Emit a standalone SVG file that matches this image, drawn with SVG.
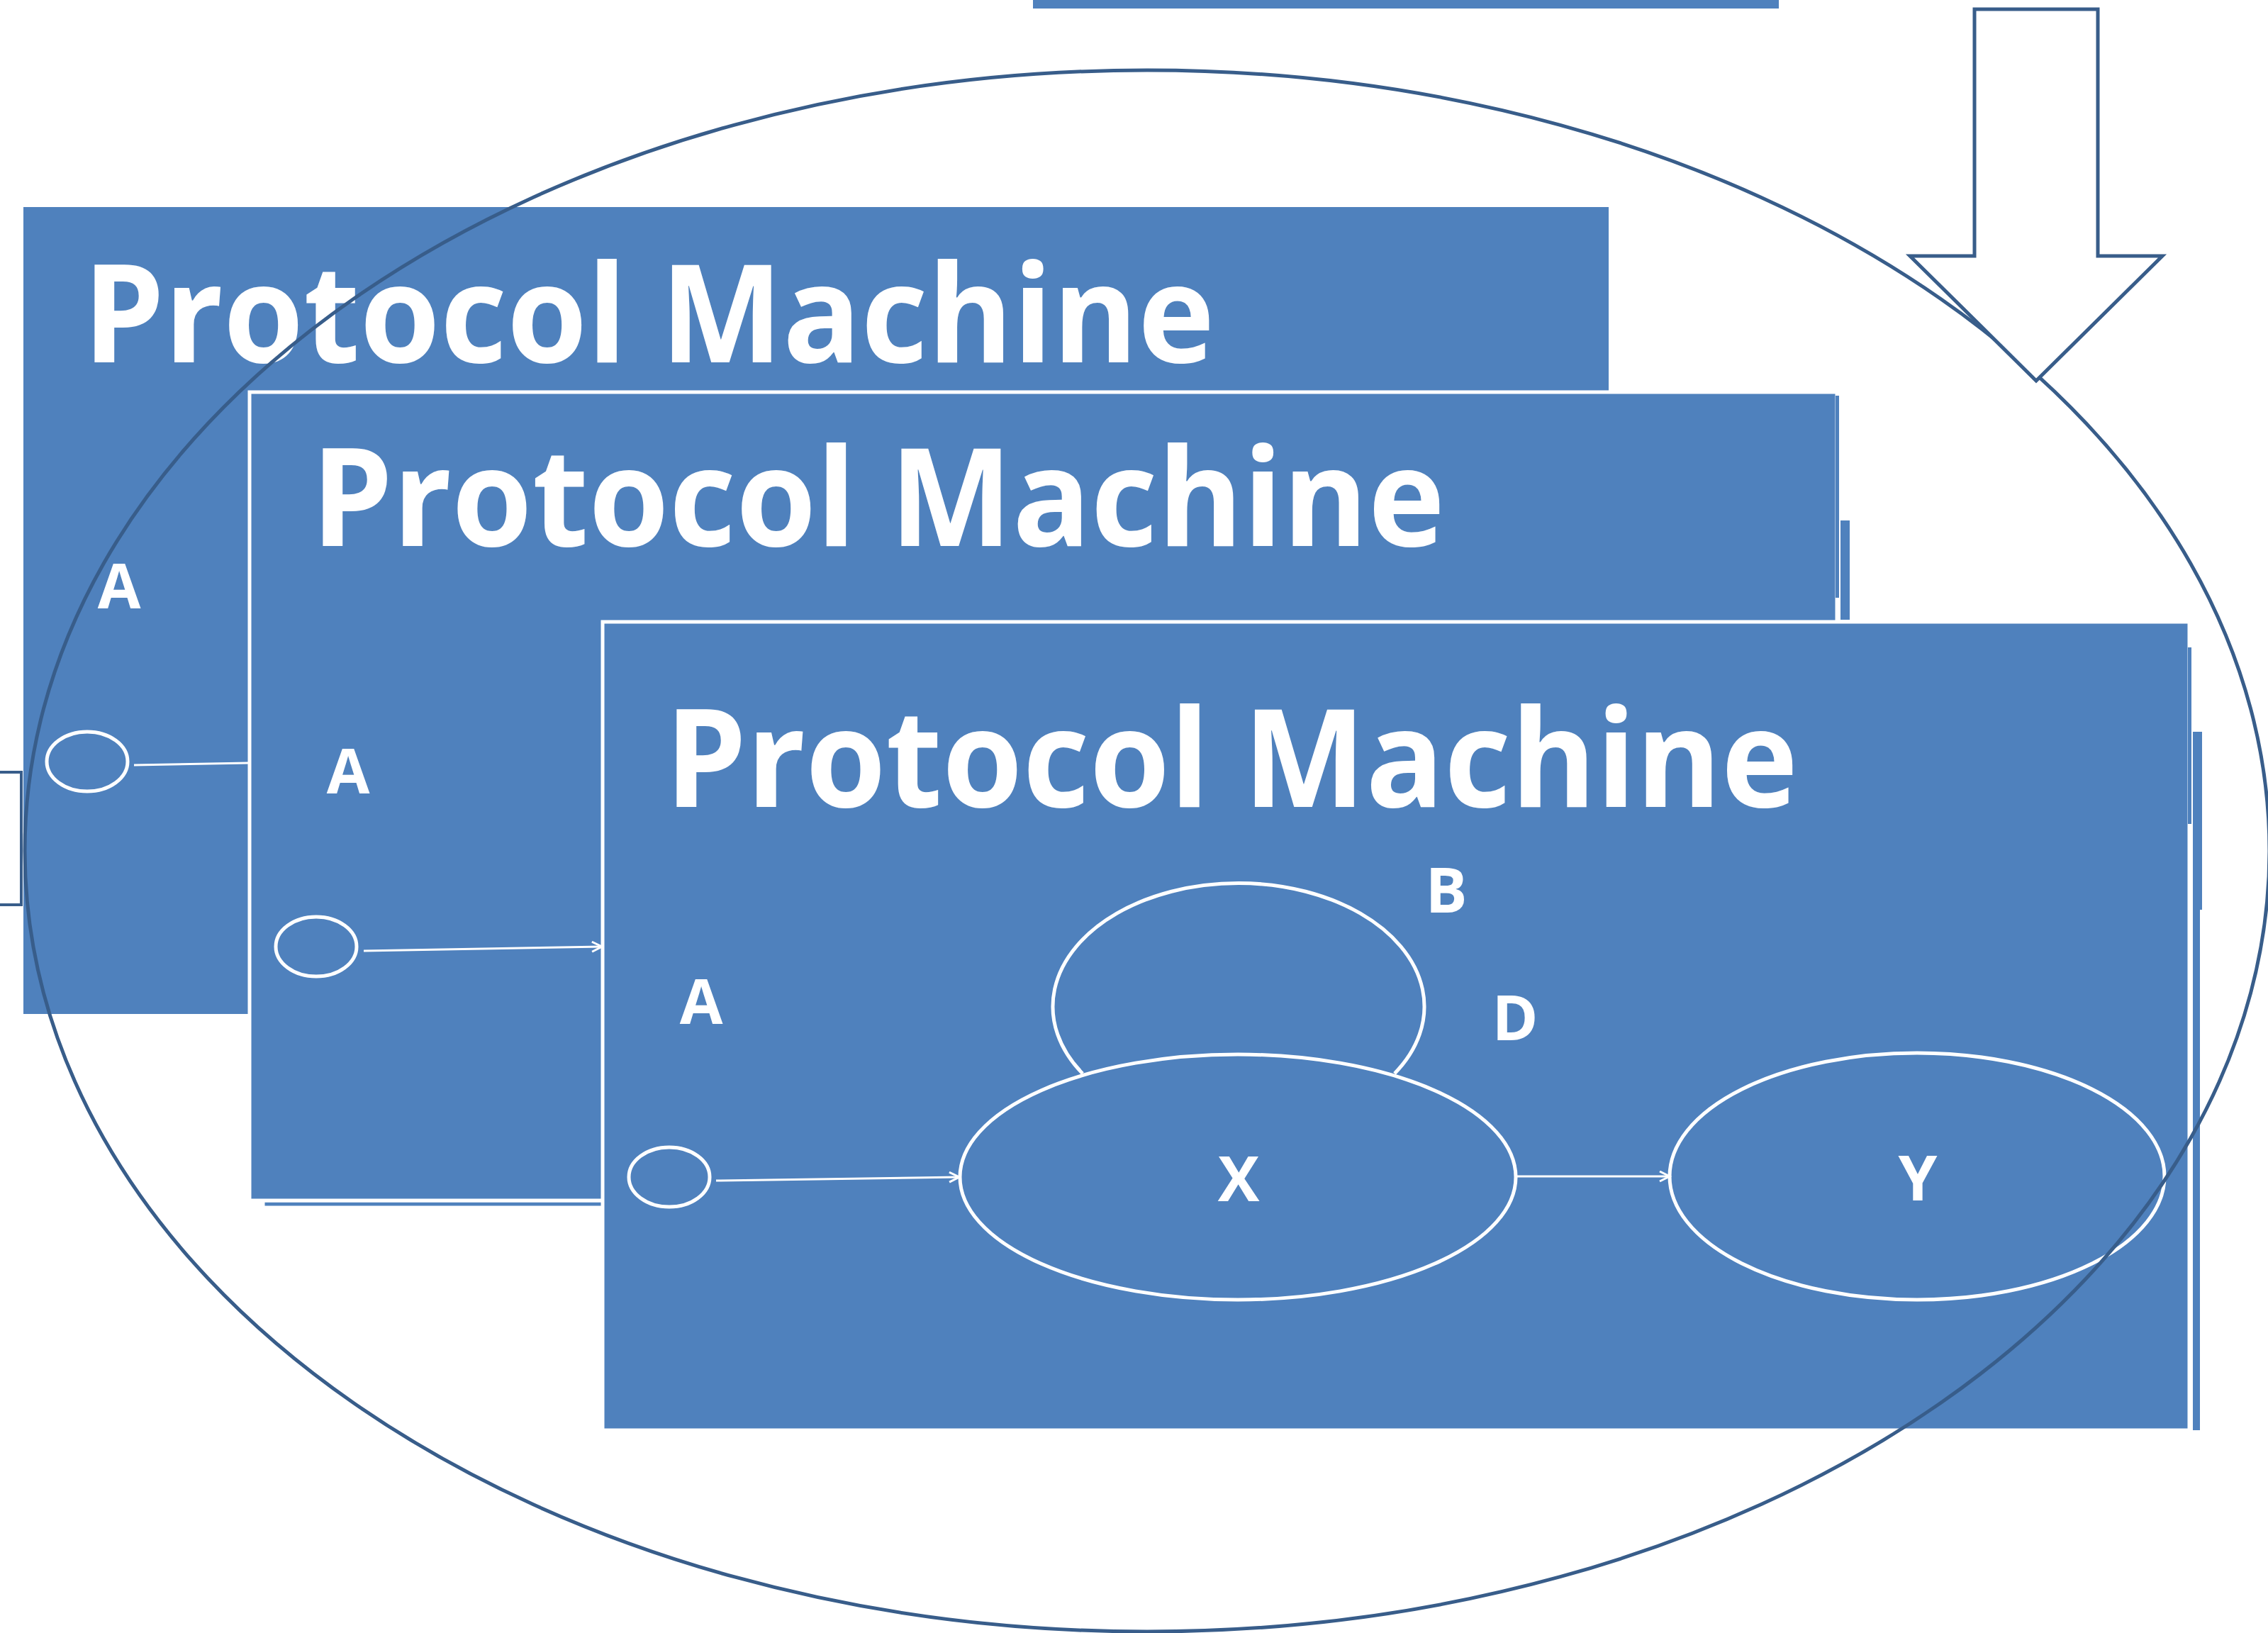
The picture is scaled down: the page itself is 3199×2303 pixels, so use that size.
<svg xmlns="http://www.w3.org/2000/svg" width="3199" height="2303" viewBox="0 0 3199 2303">
<style>
.pm{fill:#4F81BD}
.pmb{fill:#4F81BD;stroke:#FFFFFF;stroke-width:5}
.title{font-family:"Open Sans",Lato,sans-serif;font-weight:700;font-size:193px;fill:#FFFFFF}
.lbl{font-family:"Open Sans",Lato,sans-serif;font-weight:700;font-size:88px;fill:#FFFFFF;text-anchor:middle}
.st{fill:none;stroke:#FFFFFF;stroke-width:5}
.edge{fill:none;stroke:#FFFFFF;stroke-width:3}
.dark{fill:none;stroke:#385D8A;stroke-width:5}
</style>
<defs>
<marker id="open" markerWidth="20" markerHeight="20" refX="15" refY="8" orient="auto" markerUnits="userSpaceOnUse">
<path d="M1,1 L15,8 L1,15" fill="none" stroke="#FFFFFF" stroke-width="3"/>
</marker>
</defs>
<rect id="topbar" class="pm" x="1457" y="0" width="1052" height="12"/>
<rect id="leftbracket" x="-10" y="1089" width="40" height="187" fill="#FFFFFF" stroke="#385D8A" stroke-width="4"/>
<g id="machine1">
<rect class="pm" x="33" y="292" width="2236" height="1138"/>
<text class="title" x="117" y="511" textLength="1596" lengthAdjust="spacingAndGlyphs">Protocol Machine</text>
<text class="lbl" x="168" y="858">A</text>
<ellipse class="st" cx="123" cy="1074" rx="57" ry="42"/>
</g>
<g id="machine2">
<rect class="pm" x="2596" y="734" width="13" height="140"/>
<rect x="372" y="1694" width="478" height="8" fill="#4F81BD" stroke="#FFFFFF" stroke-width="3"/>
<rect class="pmb" x="352" y="553" width="2239" height="1140"/>
<rect class="pm" x="2589" y="558" width="5" height="285"/>
<text class="title" x="439" y="770" textLength="1599" lengthAdjust="spacingAndGlyphs">Protocol Machine</text>
<text class="lbl" x="491" y="1119">A</text>
<ellipse class="st" cx="446" cy="1335" rx="57" ry="42"/>
</g>
<g id="machine3">
<rect class="pm" x="3093" y="1032" width="13" height="251"/>
<rect class="pm" x="3093" y="1283" width="10" height="734"/>
<rect class="pmb" x="850" y="877" width="2238" height="1140"/>
<rect class="pm" x="3086" y="913" width="5" height="249"/>
<text class="title" x="938" y="1138" textLength="1598" lengthAdjust="spacingAndGlyphs">Protocol Machine</text>
<text class="lbl" x="989" y="1444">A</text>
<ellipse class="st" cx="944" cy="1660" rx="57" ry="42"/>
</g>
<g id="stateX">
<ellipse class="st" cx="1746" cy="1660" rx="392" ry="173"/>
<text class="lbl" x="1747" y="1694">X</text>
</g>
<g id="stateY">
<ellipse class="st" cx="2704" cy="1659" rx="349" ry="174"/>
<text class="lbl" x="2705" y="1693">Y</text>
</g>
<g id="connectors">
<line class="edge" x1="189" y1="1079" x2="350" y2="1076"/>
<line class="edge" x1="513" y1="1341" x2="849" y2="1335" marker-end="url(#open)"/>
<line class="edge" x1="1010" y1="1665" x2="1353" y2="1660" marker-end="url(#open)"/>
<line class="edge" x1="2140" y1="1659" x2="2355" y2="1659" marker-end="url(#open)"/>
<path class="st" d="M1527,1514 A262,174 0 1 1 1967,1514"/>
<text class="lbl" x="2040" y="1287">B</text>
<text class="lbl" x="2137" y="1467">D</text>
</g>
<ellipse id="boundary" class="dark" cx="1618" cy="1200" rx="1583" ry="1101"/>
<path id="downarrow" d="M2785,13 L2959,13 L2959,361 L3050,361 L2872,537 L2694,361 L2785,361 Z" fill="#FFFFFF" stroke="#385D8A" stroke-width="5"/>
</svg>
